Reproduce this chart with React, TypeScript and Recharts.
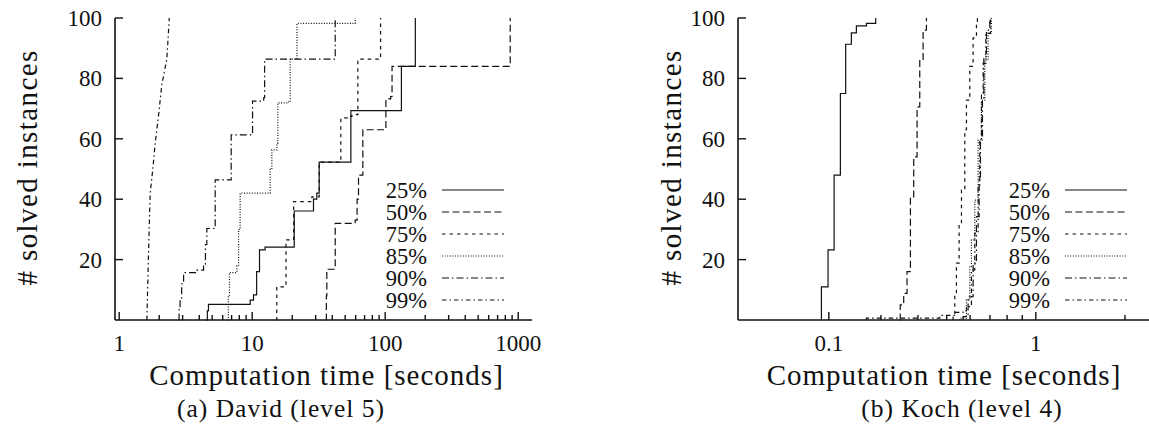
import React from "react";
import { LineChart, Line, XAxis, YAxis, Legend } from "recharts";

const FONT = "Liberation Serif";
const INK = "#111";

// David (level 5): [computation time in seconds, # solved instances]
const david25 = [[4.48, 0], [4.6, 3], [4.69, 5.2], [9.66, 6.6], [10.23, 8.3], [10.8, 16], [11.35, 23.2], [12.5, 24.1], [20.7, 36.1], [28.9, 40], [30.6, 42], [31.9, 52.3], [55.2, 69.3], [132.4, 84], [168.5, 100]];
const david50 = [[35.8, 0], [36.1, 8], [36.4, 16.8], [42.1, 32], [59.5, 33.1], [61.5, 40], [63, 48], [67.9, 63], [100, 63.5], [101.2, 73.2], [110, 74], [112.6, 84], [871, 100]];
const david75 = [[15.15, 0], [15.3, 11], [17.7, 11.6], [17.95, 26.5], [20.5, 39.2], [28.1, 40.8], [31.9, 52.3], [46.4, 66.9], [52, 67.4], [56.2, 68], [62.3, 86.4], [92.3, 100]];
const david85 = [[6.56, 0], [6.62, 8], [6.75, 15.7], [7.67, 17.9], [7.9, 30], [8.12, 42], [13.65, 50], [14.05, 56.3], [15.33, 58.6], [15.6, 71.9], [18.76, 72.5], [19.3, 86.4], [21.7, 98.2], [59.5, 100]];
const david90 = [[2.79, 0], [2.82, 4], [2.87, 7], [2.95, 12], [3.05, 15.7], [3.84, 16.5], [4.31, 18.5], [4.45, 25], [4.56, 30.3], [5.27, 46.4], [6.95, 61.3], [10.06, 72.5], [12.2, 73.6], [12.4, 86.4], [42.1, 100]];
const david99 = [[1.615, 0], [1.64, 12], [1.67, 26], [1.71, 42], [1.79, 50], [1.865, 58.6], [1.98, 68], [2.09, 77.8], [2.28, 86.4], [2.33, 93], [2.38, 100]];

// Koch (level 4)
const koch25 = [[0.1888, 0], [0.1888, 11], [0.1988, 23.2], [0.2084, 48], [0.2188, 75], [0.228, 91.3], [0.2383, 95.1], [0.2478, 97.4], [0.268, 98.2], [0.288, 100]];
const koch50 = [[0.347, 0], [0.3485, 5], [0.358, 8.8], [0.3674, 16], [0.3772, 40.8], [0.387, 54], [0.3972, 70.6], [0.4056, 86.1], [0.4163, 96], [0.4272, 100]];
const koch75 = [[0.5257, 0], [0.5257, 1.7], [0.5326, 8.8], [0.5395, 18.8], [0.5508, 32], [0.561, 43], [0.5757, 63], [0.5832, 72.8], [0.5984, 84], [0.6142, 93.4], [0.6303, 98.9], [0.635, 100]];
const koch85 = [[0.5536, 0], [0.5536, 0.6], [0.5832, 6.6], [0.5984, 17.7], [0.6062, 26.5], [0.6222, 39.7], [0.6385, 59.6], [0.6553, 72.8], [0.6727, 86.1], [0.6902, 94.9], [0.7083, 100]];
const koch90 = [[0.568, 0], [0.568, 1.1], [0.5907, 7.7], [0.6142, 18.8], [0.6303, 34.2], [0.6435, 47.5], [0.6502, 59.6], [0.6605, 72.8], [0.6675, 87.2], [0.6815, 96], [0.6992, 100]];
const koch99 = [[0.268, 0], [0.268, 0.6], [0.474, 1.5], [0.53, 2.5], [0.568, 3], [0.5832, 4.4], [0.6062, 16.6], [0.6222, 28.7], [0.6385, 44.2], [0.6468, 59.6], [0.6553, 75], [0.664, 85], [0.678, 94.9], [0.7028, 100]];

const seriesNames = ["25%", "50%", "75%", "85%", "90%", "99%"];
const dashes = ["", "7 3.5", "3.5 4", "1 1.6", "7 3 1.5 3", "4.5 3 1.5 3"];

const yTicks = [20, 40, 60, 80, 100];
const davidMajor = [1, 10, 100, 1000];
const davidMajorLabels = ["1", "10", "100", "1000"];
const davidMinor = [2, 3, 4, 5, 6, 7, 8, 9, 20, 30, 40, 50, 60, 70, 80, 90, 200, 300, 400, 500, 600, 700, 800, 900];
const kochMajor = [0.2, 1];
const kochMajorLabels = ["0.1", "1"];
const kochMinor = [0.3, 0.4, 0.5, 0.6, 0.7, 0.8, 0.9, 2];

const toPts = (arr: number[][]) => arr.map(([t, c]) => ({ t, c }));

const txt = (size: number, extra: React.CSSProperties = {}): React.CSSProperties => ({
  fontFamily: FONT,
  fontSize: size,
  fill: INK,
  ...extra,
});

type PanelProps = {
  left: number;
  width: number;
  yAxisWidth: number;
  marginRight: number;
  domain: [number, number];
  major: number[];
  majorLabels: string[];
  minor: number[];
  series: number[][][];
  linear99?: boolean;
  legendRight: number;
};

function Panel(p: PanelProps) {
  const ticks = [...p.minor, ...p.major].sort((a, b) => a - b);
  const labelOf = (v: number) => {
    const i = p.major.findIndex((m) => Math.abs(m - v) < 1e-9);
    return i >= 0 ? p.majorLabels[i] : null;
  };
  const axisLine = { stroke: INK, strokeWidth: 1.6 };

  const BottomTick = (t: any) => {
    const lab = labelOf(t.payload.value);
    const len = lab !== null ? 8 : 5;
    return (
      <g>
        <line x1={t.x} x2={t.x} y1={t.y} y2={t.y - len} stroke={INK} strokeWidth={1.4} />
        {lab !== null && (
          <text x={t.x} y={t.y + 31} textAnchor="middle" style={txt(23)}>
            {lab}
          </text>
        )}
      </g>
    );
  };
  const TopTick = (t: any) => {
    const len = labelOf(t.payload.value) !== null ? 8 : 5;
    return <line x1={t.x} x2={t.x} y1={t.y} y2={t.y + len} stroke={INK} strokeWidth={1.4} />;
  };
  const LeftTick = (t: any) => (
    <g>
      <line x1={t.x} x2={t.x + 8} y1={t.y} y2={t.y} stroke={INK} strokeWidth={1.4} />
      <text x={t.x - 13} y={t.y + 8} textAnchor="end" style={txt(23)}>
        {t.payload.value}
      </text>
    </g>
  );
  const RightTick = (t: any) => (
    <line x1={t.x} x2={t.x - 8} y1={t.y} y2={t.y} stroke={INK} strokeWidth={1.4} />
  );

  const legendLeft = p.legendRight - 50;
  const LegendBox = () => (
    <svg width={135} height={140} style={{ display: "block" }}>
      {seriesNames.map((name, i) => {
        const cy = 15 + i * 22;
        return (
          <g key={name}>
            <text x={50} y={cy + 7.5} textAnchor="end" style={txt(22.5)}>
              {name}
            </text>
            <line x1={65} x2={127} y1={cy} y2={cy} stroke={INK} strokeWidth={1.2} strokeDasharray={dashes[i]} />
          </g>
        );
      })}
    </svg>
  );

  return (
    <div style={{ position: "absolute", left: p.left, top: 0 }}>
      <LineChart width={p.width} height={428} margin={{ top: 18, right: p.marginRight, bottom: 0, left: 0 }}>
        <XAxis
          xAxisId="top"
          orientation="top"
          type="number"
          scale="log"
          domain={p.domain}
          allowDataOverflow
          ticks={ticks}
          interval={0}
          height={0}
          tickSize={0}
          tickMargin={0}
          tickLine={false}
          axisLine={axisLine}
          tick={TopTick}
        />
        <XAxis
          xAxisId="b"
          dataKey="t"
          type="number"
          scale="log"
          domain={p.domain}
          allowDataOverflow
          ticks={ticks}
          interval={0}
          height={108}
          tickSize={0}
          tickMargin={0}
          tickLine={false}
          axisLine={axisLine}
          tick={BottomTick}
        />
        <YAxis
          yAxisId="l"
          type="number"
          domain={[0, 100]}
          ticks={yTicks}
          interval={0}
          width={p.yAxisWidth}
          tickSize={0}
          tickMargin={0}
          tickLine={false}
          axisLine={axisLine}
          tick={LeftTick}
        />
        <YAxis
          yAxisId="r"
          orientation="right"
          type="number"
          domain={[0, 100]}
          ticks={yTicks}
          interval={0}
          width={0}
          tickSize={0}
          tickMargin={0}
          tickLine={false}
          axisLine={axisLine}
          tick={RightTick}
        />
        {p.series.map((d, i) => (
          <Line
            key={seriesNames[i]}
            name={seriesNames[i]}
            xAxisId="b"
            yAxisId="l"
            data={toPts(d)}
            dataKey="c"
            type={p.linear99 && i === 5 ? "linear" : "stepAfter"}
            stroke={INK}
            strokeWidth={1.2}
            strokeDasharray={dashes[i]}
            dot={false}
            activeDot={false}
            isAnimationActive={false}
          />
        ))}
        <Legend
          layout="horizontal"
          verticalAlign="middle"
          align="center"
          content={LegendBox}
          wrapperStyle={{ left: legendLeft, top: 175, width: 135, height: 140 }}
        />
      </LineChart>
    </div>
  );
}

export default function App() {
  return (
    <div
      style={{
        position: "absolute",
        left: 0,
        top: 0,
        width: 1149,
        height: 428,
        overflow: "hidden",
        background: "#fff",
        fontFamily: FONT,
      }}
    >
      <Panel
        left={0}
        width={560}
        yAxisWidth={115}
        marginRight={28}
        domain={[0.93, 1270]}
        major={davidMajor}
        majorLabels={davidMajorLabels}
        minor={davidMinor}
        series={[david25, david50, david75, david85, david90, david99]}
        linear99
        legendRight={427}
      />
      <Panel
        left={580}
        width={570}
        yAxisWidth={158}
        marginRight={0}
        domain={[0.0987, 2.43]}
        major={kochMajor}
        majorLabels={kochMajorLabels}
        minor={kochMinor}
        series={[koch25, koch50, koch75, koch85, koch90, koch99]}
        legendRight={470}
      />
      <svg width={1149} height={428} style={{ position: "absolute", left: 0, top: 0, pointerEvents: "none" }}>
        <text transform="translate(37,167.5) rotate(-90)" textAnchor="middle" style={txt(29, { letterSpacing: 1.4 })}>
          # solved instances
        </text>
        <text transform="translate(681,167.5) rotate(-90)" textAnchor="middle" style={txt(29, { letterSpacing: 1.4 })}>
          # solved instances
        </text>
        <text x={326.5} y={385} textAnchor="middle" style={txt(29, { letterSpacing: 1 })}>
          Computation time [seconds]
        </text>
        <text x={944} y={385} textAnchor="middle" style={txt(29, { letterSpacing: 1 })}>
          Computation time [seconds]
        </text>
        <text x={281} y={417} textAnchor="middle" style={txt(25.5, { letterSpacing: 1 })}>
          (a) David (level 5)
        </text>
        <text x={962} y={417} textAnchor="middle" style={txt(25.5, { letterSpacing: 1 })}>
          (b) Koch (level 4)
        </text>
      </svg>
    </div>
  );
}
